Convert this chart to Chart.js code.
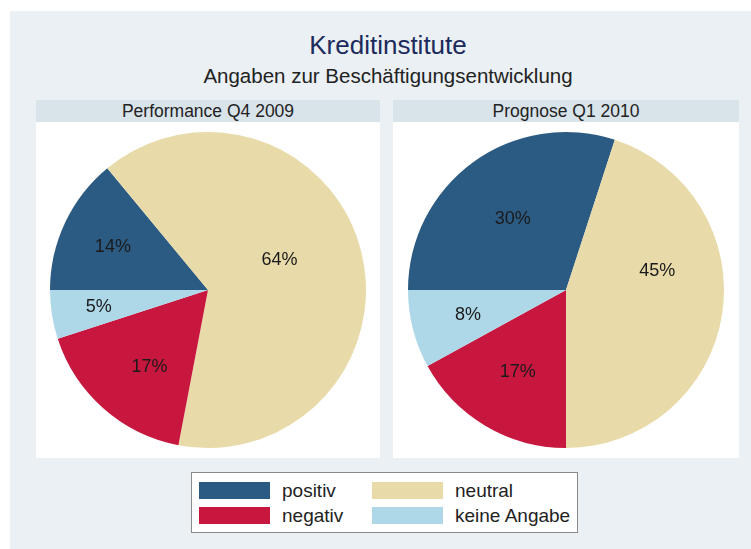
<!DOCTYPE html>
<html>
<head>
<meta charset="utf-8">
<script src="https://cdn.jsdelivr.net/npm/chart.js@4"></script>
<style>
  body { margin: 0; background: #fff; font-family: "Liberation Sans", Arial, sans-serif; }
  #wrap { position: absolute; left: 10px; top: 11px; width: 741px; height: 538px; background: #eaf0f3; }
  .abs { position: absolute; }
  .title { left: 10px; width: 756px; text-align: center; }
  .strip { background: #d9e3ea; height: 22px; line-height: 22px; text-align: center; font-size: 17.5px; color: #222; top: 100px; }
  .plot { background: #fff; top: 122px; height: 336px; }
  #legend { left: 191px; top: 472px; width: 387px; height: 61px; background: #fff; border: 1px solid #8a8a8a;
    display: grid; grid-template-columns: 173px 205px; grid-template-rows: 17px 17px; padding: 9px 0 0 7px; box-sizing: border-box; row-gap: 8px; }
  .item { display: flex; align-items: center; font-size: 19px; line-height: 17px; color: #222; height: 17px; }
  .sw { width: 71px; height: 17px; margin-right: 12px; flex: none; }
</style>
</head>
<body>
<div id="wrap"></div>
<div class="abs title" style="top:30px;font-size:26px;line-height:30px;color:#1c2a5c;">Kreditinstitute</div>
<div class="abs title" style="top:64px;font-size:20.5px;line-height:24px;color:#222;">Angaben zur Beschäftigungsentwicklung</div>
<div class="abs strip" style="left:36px;width:344px;" id="h1"></div>
<div class="abs strip" style="left:393px;width:346px;" id="h2"></div>
<div class="abs plot" style="left:36px;width:344px;"><canvas id="pie1" width="344" height="336"></canvas></div>
<div class="abs plot" style="left:393px;width:346px;"><canvas id="pie2" width="346" height="336"></canvas></div>
<div class="abs" id="legend"></div>
<script>
// categories in drawing order (clockwise from 9 o'clock)
const categories = ["positiv", "neutral", "negativ", "keine Angabe"];
const colors = ["#2b5a82", "#e8dba9", "#c8173f", "#aed8e8"];
const panelTitles = ["Performance Q4 2009", "Prognose Q1 2010"];
const q4_2009 = [14, 64, 17, 5];
const q1_2010 = [30, 45, 17, 8];

// label placement: turn (degrees, counterclockwise from slice middle) and distance (share of radius)
const labelTurn1 = [1, 8, 4, 0];
const labelDist1 = [0.66, 0.49, 0.61, 0.70];
const labelTurn2 = [1, 21, 0, 0];
const labelDist2 = [0.56, 0.59, 0.60, 0.64];

document.getElementById("h1").textContent = panelTitles[0];
document.getElementById("h2").textContent = panelTitles[1];

// legend, two columns: positiv / neutral, negativ / keine Angabe
const legend = document.getElementById("legend");
categories.forEach((c, i) => {
  const d = document.createElement("div");
  d.className = "item";
  d.innerHTML = '<span class="sw" style="background:' + colors[i] + '"></span>' + c;
  legend.appendChild(d);
});

const pctLabels = {
  id: "pctLabels",
  afterDatasetsDraw(chart, args, opts) {
    const ctx = chart.ctx;
    const meta = chart.getDatasetMeta(0);
    const data = chart.data.datasets[0].data;
    ctx.save();
    ctx.font = '18px "Liberation Sans", Arial, sans-serif';
    ctx.fillStyle = "#1a1a1a";
    ctx.textAlign = "center";
    ctx.textBaseline = "middle";
    meta.data.forEach((arc, i) => {
      const a = (arc.startAngle + arc.endAngle) / 2 - opts.turn[i] * Math.PI / 180;
      const r = arc.outerRadius * opts.dist[i];
      ctx.fillText(data[i] + "%", arc.x + Math.cos(a) * r, arc.y + Math.sin(a) * r);
    });
    ctx.restore();
  }
};

function makePie(id, values, turn, dist) {
  new Chart(document.getElementById(id), {
    type: "pie",
    data: {
      labels: categories,
      datasets: [{ data: values, backgroundColor: colors, borderWidth: 0 }]
    },
    options: {
      responsive: false,
      animation: false,
      rotation: -90,
      layout: { padding: 10 },
      plugins: {
        legend: { display: false },
        tooltip: { enabled: false },
        pctLabels: { turn: turn, dist: dist }
      }
    },
    plugins: [pctLabels]
  });
}

makePie("pie1", q4_2009, labelTurn1, labelDist1);
makePie("pie2", q1_2010, labelTurn2, labelDist2);
</script>
</body>
</html>
